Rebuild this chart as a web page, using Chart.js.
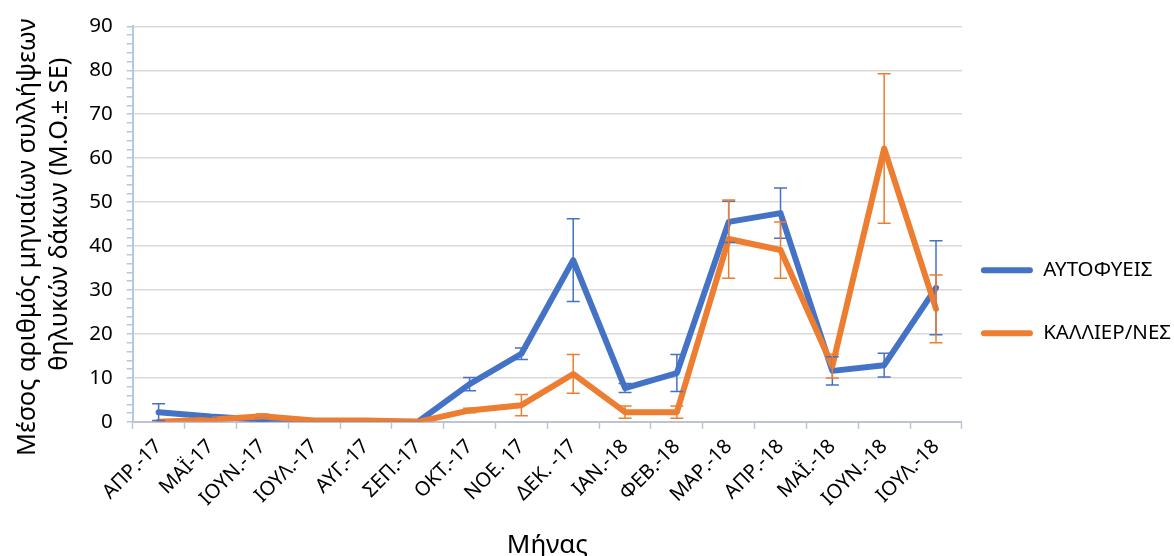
<!DOCTYPE html>
<html>
<head>
<meta charset="utf-8">
<script src="https://cdn.jsdelivr.net/npm/chart.js@4/dist/chart.umd.min.js"></script>
<style>
html,body{margin:0;padding:0;background:#fff;}
#wrap{width:1174px;height:556px;position:relative;}
</style>
</head>
<body>
<div id="wrap"><canvas id="c" width="1174" height="556"></canvas></div>
<script>
const categories = ['ΑΠΡ.-17','ΜΑΪ-17','ΙΟΥΝ.-17','ΙΟΥΛ.-17','ΑΥΓ.-17','ΣΕΠ.-17','ΟΚΤ.-17','ΝΟΕ. 17','ΔΕΚ. -17','ΙΑΝ.-18','ΦΕΒ.-18','ΜΑΡ.-18','ΑΠΡ.-18','ΜΑΪ.-18','ΙΟΥΝ.-18','ΙΟΥΛ.-18'];
const seriesNames = ['ΑΥΤΟΦΥΕΙΣ','ΚΑΛΛΙΕΡ/ΝΕΣ'];
const autofyeisMean = [2.2, 1.2, 0.5, 0, 0, 0, 8.6, 15.5, 36.8, 7.7, 11.1, 45.5, 47.5, 11.6, 12.9, 30.5];
const autofyeisSE   = [1.9, 0.4, 0.3, 0, 0, 0, 1.5, 1.3, 9.4, 1.0, 4.2, 4.7, 5.7, 3.2, 2.7, 10.7];
const kalliergMean  = [0, 0.5, 1.3, 0.3, 0.3, 0, 2.6, 3.8, 10.9, 2.2, 2.2, 41.6, 39.1, 12.7, 62.2, 25.7];
const kalliergSE    = [0, 0.2, 0.5, 0, 0, 0, 0.5, 2.4, 4.4, 1.4, 1.4, 8.9, 6.4, 2.7, 17.0, 7.7];
const yTicks = [0,10,20,30,40,50,60,70,80,90];
const yTitle = ['Μέσος αριθμός μηνιαίων συλλήψεων    ', '   θηλυκών δάκων (Μ.Ο.± SE)'];
const xTitle = 'Μήνας';

const BLUE = '#4472C4', ORANGE = '#ED7D31';
const FONT = "'Noto Sans', sans-serif";

const errorBars = {
  id: 'errorBars',
  afterDatasetsDraw(chart) {
    const ctx = chart.ctx;
    const xs = chart.scales.x, ys = chart.scales.y;
    chart.data.datasets.forEach((ds) => {
      const se = ds.se;
      ctx.save();
      ctx.strokeStyle = ds.borderColor;
      ctx.lineWidth = 1.5;
      ds.data.forEach((v, i) => {
        const e = se[i];
        if (!e) return;
        const x = xs.getPixelForValue(i);
        const yT = ys.getPixelForValue(v + e);
        const yB = ys.getPixelForValue(Math.max(0, v - e));
        ctx.beginPath();
        ctx.moveTo(x, yT); ctx.lineTo(x, yB);
        ctx.moveTo(x - 6.5, yT); ctx.lineTo(x + 6.5, yT);
        ctx.moveTo(x - 6.5, yB); ctx.lineTo(x + 6.5, yB);
        ctx.stroke();
      });
      ctx.restore();
    });
  }
};

new Chart(document.getElementById('c'), {
  type: 'line',
  data: {
    labels: categories,
    datasets: [
      {label: seriesNames[0], data: autofyeisMean, se: autofyeisSE, borderColor: BLUE, backgroundColor: BLUE,
       borderWidth: 6, pointRadius: 0, tension: 0, borderJoinStyle: 'round', borderCapStyle: 'round', order: 1},
      {label: seriesNames[1], data: kalliergMean, se: kalliergSE, borderColor: ORANGE, backgroundColor: ORANGE,
       borderWidth: 6, pointRadius: 0, tension: 0, borderJoinStyle: 'round', borderCapStyle: 'round', order: 0}
    ]
  },
  options: {
    responsive: false,
    animation: false,
    layout: {padding: {left: 12, top: 20, right: -7, bottom: -5}},
    plugins: {
      tooltip: {enabled: false},
      legend: {
        position: 'right',
        title: {display: true, text: ' ', font: {size: 10, lineHeight: 1}, padding: {top: 36, bottom: 0}},
        labels: {
          sort: (a, b) => a.datasetIndex - b.datasetIndex,
          generateLabels: (chart) => Chart.defaults.plugins.legend.labels.generateLabels(chart).map(l => Object.assign(l, {text: [l.text], lineWidth: 0})),
          boxWidth: 52, boxHeight: 6, padding: 19, useBorderRadius: true, borderRadius: 3,
          color: '#000', font: {family: FONT, size: 20.5, lineHeight: 2.146}
        }
      }
    },
    scales: {
      x: {
        offset: true,
        grid: {offset: true, drawOnChartArea: false, tickLength: 7, tickColor: '#BCC4D4', tickWidth: 1.5},
        border: {color: '#BCC4D4', width: 2},
        ticks: {minRotation: 45, maxRotation: 45, autoSkip: false, color: '#000', font: {family: FONT, size: 20}, padding: 6},
        title: {display: true, text: xTitle, color: '#000', font: {family: FONT, size: 26, lineHeight: 1.2}, padding: {top: 13, bottom: 0}}
      },
      y: {
        min: 0, max: 90,
        afterBuildTicks: (axis) => {
          const t = [];
          for (let v = 0; v <= 90; v += 2) t.push({value: v});
          axis.ticks = t;
        },
        grid: {
          color: (c) => (yTicks.includes(c.tick.value) && c.tick.value !== 0) ? '#D9D9D9' : 'rgba(0,0,0,0)',
          lineWidth: 1.5,
          tickColor: '#B4C7E7', tickLength: 6, tickWidth: 1.5
        },
        border: {color: '#B4C7E7', width: 2},
        ticks: {
          autoSkip: false,
          callback: (v) => yTicks.includes(v) ? String(v) : '',
          color: '#000', font: {family: FONT, size: 20.5}, padding: 14
        },
        title: {display: true, text: yTitle,
                color: '#000', font: {family: FONT, size: 25.3, lineHeight: 1.25}, padding: {top: 0, bottom: 0}}
      }
    }
  },
  plugins: [errorBars]
});
</script>
</body>
</html>
